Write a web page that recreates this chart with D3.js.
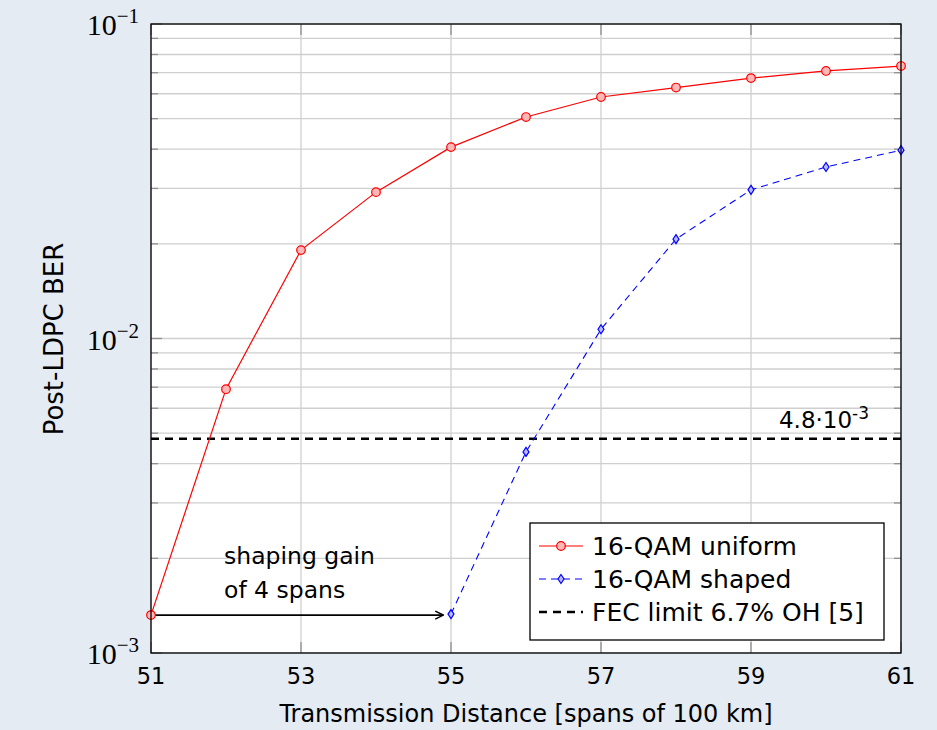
<!DOCTYPE html>
<html><head><meta charset="utf-8">
<script src="https://cdn.jsdelivr.net/npm/d3@7/dist/d3.min.js"></script>
<style>
body{margin:0;background:#e4ebf2;}
svg{display:block;}
</style></head>
<body><svg id="c" width="937" height="730"></svg>
<script>
const spans = [51,52,53,54,55,56,57,58,59,60,61];
const uniformBER = [1.32e-3,6.9e-3,0.0191,0.0292,0.0406,0.0506,0.0586,0.0628,0.0673,0.0709,0.0735];
const shapedSpans = [55,56,57,58,59,60,61];
const shapedBER = [1.33e-3,4.36e-3,0.0107,0.0207,0.0297,0.0351,0.0397];
const fecLimit = 4.8e-3;
const xTicks = [51,53,55,57,59,61];
const yExponents = [-1,-2,-3];
const legendLabels = ["16-QAM uniform","16-QAM shaped","FEC limit 6.7% OH [5]"];
const annotation = ["shaping gain","of 4 spans"];

const svg = d3.select("#c");
const L=151,R=901,T=24,B=653;
const x = d3.scaleLinear().domain([51,61]).range([L,R]);
const y = d3.scaleLog().domain([1e-3,1e-1]).range([B,T]);
const sans = "'DejaVu Sans', sans-serif";
const serif = "'Liberation Serif','DejaVu Serif', serif";

svg.append("rect").attr("x",L).attr("y",T).attr("width",R-L).attr("height",B-T).attr("fill","#fff");

const gridVals=[];
for(let e=-3;e<-1;e++){for(let m=1;m<10;m++){gridVals.push(m*Math.pow(10,e));}}
gridVals.push(1e-1);
const g = svg.append("g");
g.selectAll("line.h").data(gridVals).join("line")
  .attr("x1",L).attr("x2",R).attr("y1",d=>y(d)).attr("y2",d=>y(d))
  .attr("stroke","#cfcfcf").attr("stroke-width",1.3);
g.selectAll("line.v").data(xTicks).join("line")
  .attr("x1",d=>x(d)).attr("x2",d=>x(d)).attr("y1",T).attr("y2",B)
  .attr("stroke","#cfcfcf").attr("stroke-width",1.3);
const isMajor=d=>Math.abs(Math.log10(d)-Math.round(Math.log10(d)))<1e-9;
g.selectAll("line.tl").data(gridVals).join("line")
  .attr("x1",L).attr("x2",d=>L+(isMajor(d)?11:7)).attr("y1",d=>y(d)).attr("y2",d=>y(d))
  .attr("stroke","#909090").attr("stroke-width",1.3);
g.selectAll("line.tr").data(gridVals).join("line")
  .attr("x1",R).attr("x2",d=>R-(isMajor(d)?11:7)).attr("y1",d=>y(d)).attr("y2",d=>y(d))
  .attr("stroke","#909090").attr("stroke-width",1.3);
g.selectAll("line.tb").data(xTicks).join("line")
  .attr("x1",d=>x(d)).attr("x2",d=>x(d)).attr("y1",B).attr("y2",B-11)
  .attr("stroke","#909090").attr("stroke-width",1.3);
g.selectAll("line.tt").data(xTicks).join("line")
  .attr("x1",d=>x(d)).attr("x2",d=>x(d)).attr("y1",T).attr("y2",T+11)
  .attr("stroke","#909090").attr("stroke-width",1.3);

svg.append("line").attr("x1",L).attr("x2",R).attr("y1",y(fecLimit)).attr("y2",y(fecLimit))
  .attr("stroke","#000").attr("stroke-width",2.6).attr("stroke-dasharray","8,6");
const fl = svg.append("text").attr("x",824).attr("y",y(fecLimit)-11).attr("text-anchor","middle")
  .attr("font-family",sans).attr("font-size",23).attr("fill","#000");
fl.append("tspan").text("4.8·10");
fl.append("tspan").attr("dy",-9).attr("font-size",17).text("-3");

const line = d3.line().x(d=>x(d[0])).y(d=>y(d[1]));
const uData = spans.map((s,i)=>[s,uniformBER[i]]);
const sData = shapedSpans.map((s,i)=>[s,shapedBER[i]]);
svg.append("path").datum(uData).attr("d",line).attr("fill","none").attr("stroke","#ff0000").attr("stroke-width",1.2);
svg.append("path").datum(sData).attr("d",line).attr("fill","none").attr("stroke","#0000ff").attr("stroke-width",1.1).attr("stroke-dasharray","7,5");

svg.append("defs").append("marker").attr("id","ah").attr("viewBox","0 0 10 10").attr("refX",9).attr("refY",5)
  .attr("markerWidth",10).attr("markerHeight",10).attr("markerUnits","userSpaceOnUse").attr("orient","auto")
  .append("path").attr("d","M1,1 L9,5 L1,9").attr("fill","none").attr("stroke","#000").attr("stroke-width",1.5);
svg.append("line").attr("x1",x(51)).attr("x2",x(54.95)-4).attr("y1",y(uniformBER[0])).attr("y2",y(uniformBER[0]))
  .attr("stroke","#000").attr("stroke-width",1.8).attr("marker-end","url(#ah)");
svg.selectAll("text.ann").data(annotation).join("text")
  .attr("x",224).attr("y",(d,i)=>564+i*34).attr("font-family",sans).attr("font-size",23.5).attr("fill","#000").text(d=>d);

svg.selectAll("circle.u").data(uData).join("circle")
  .attr("cx",d=>x(d[0])).attr("cy",d=>y(d[1])).attr("r",4.3)
  .attr("fill","#ffb8b8").attr("stroke","#ff0000").attr("stroke-width",1.2);
const dia = "M0,-4.5 L3,0 L0,4.5 L-3,0 Z";
svg.selectAll("path.s").data(sData).join("path")
  .attr("d",dia).attr("transform",d=>`translate(${x(d[0])},${y(d[1])})`)
  .attr("fill","#b8b8ff").attr("stroke","#0000ff").attr("stroke-width",1.2);

svg.append("rect").attr("x",L).attr("y",T).attr("width",R-L).attr("height",B-T).attr("fill","none").attr("stroke","#000").attr("stroke-width",1.3);

svg.selectAll("text.xt").data(xTicks).join("text")
  .attr("x",d=>x(d)).attr("y",684).attr("text-anchor","middle")
  .attr("font-family",sans).attr("font-size",22.5).attr("fill","#000").text(d=>d);
yExponents.forEach(e=>{
  const t = svg.append("text").attr("x",139).attr("y",y(Math.pow(10,e))+11).attr("text-anchor","end")
    .attr("font-family",serif).attr("font-size",30).attr("fill","#000");
  t.append("tspan").text("10");
  t.append("tspan").attr("dy",-12).attr("font-size",21).text("\u2212"+(-e));
});

svg.append("text").attr("x",526).attr("y",722).attr("text-anchor","middle")
  .attr("font-family",sans).attr("font-size",24).attr("fill","#000").text("Transmission Distance [spans of 100 km]");
svg.append("text").attr("transform","translate(63,339) rotate(-90)").attr("text-anchor","middle")
  .attr("font-family",sans).attr("font-size",26).attr("fill","#000").text("Post-LDPC BER");

const lg = svg.append("g");
lg.append("rect").attr("x",530).attr("y",523).attr("width",354).attr("height",117).attr("fill","#fff").attr("stroke","#000").attr("stroke-width",1.3);
const rows=[546,579,612];
lg.append("line").attr("x1",539).attr("x2",583).attr("y1",rows[0]).attr("y2",rows[0]).attr("stroke","#f00").attr("stroke-width",1.2);
lg.append("circle").attr("cx",561).attr("cy",rows[0]).attr("r",4.3).attr("fill","#ffb8b8").attr("stroke","#f00").attr("stroke-width",1.2);
lg.append("line").attr("x1",539).attr("x2",583).attr("y1",rows[1]).attr("y2",rows[1]).attr("stroke","#00f").attr("stroke-width",1.1).attr("stroke-dasharray","7,5");
lg.append("path").attr("d",dia).attr("transform",`translate(561,${rows[1]})`).attr("fill","#b8b8ff").attr("stroke","#00f").attr("stroke-width",1.2);
lg.append("line").attr("x1",539).attr("x2",583).attr("y1",rows[2]).attr("y2",rows[2]).attr("stroke","#000").attr("stroke-width",2.6).attr("stroke-dasharray","8,6");
lg.selectAll("text").data(legendLabels).join("text")
  .attr("x",592).attr("y",(d,i)=>rows[i]+9).attr("font-family",sans).attr("font-size",25).attr("fill","#000").text(d=>d);
</script></body></html>
